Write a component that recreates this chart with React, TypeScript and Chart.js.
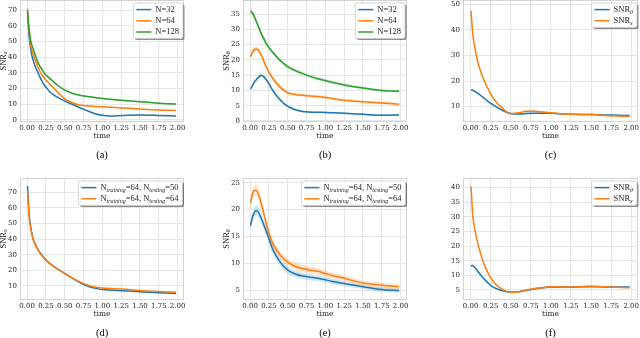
import React, { useEffect, useRef } from "react";
import { Chart, registerables } from "chart.js";
Chart.register(...registerables);

// ---------- data ----------
const TIME = [0.005, 0.025, 0.05, 0.075, 0.1, 0.15, 0.2, 0.25, 0.3, 0.4, 0.5, 0.6, 0.7, 0.8, 0.9, 1.0, 1.1, 1.25, 1.5, 1.75, 1.98];
const X_TICKS = [0, 0.25, 0.5, 0.75, 1, 1.25, 1.5, 1.75, 2];

// (a) SNR_x vs N
const A_N32 = [70, 54, 44, 39, 35, 29.5, 24.5, 21, 18, 14.5, 12, 10, 7.8, 5.8, 4, 3, 2.6, 2.8, 3.2, 2.9, 2.5];
const A_N64 = [71, 57, 47, 42.5, 39, 33, 28.5, 25.5, 23, 18, 13.5, 11, 9.5, 9, 8.6, 8.4, 8.1, 7.7, 7, 6.4, 6.1];
const A_N128 = [69, 58, 50, 46, 42.5, 36, 32, 28.6, 26.5, 22.3, 19, 17, 15.8, 15, 14.3, 13.7, 13.2, 12.6, 11.6, 10.7, 10.2];
const A_N32_SD = [1, 0.9, 0.8, 0.7, 0.6, 0.5, 0.5, 0.5, 0.5, 0.4, 0.4, 0.4, 0.4, 0.4, 0.4, 0.3, 0.3, 0.3, 0.3, 0.3, 0.3];
const A_N64_SD = [1, 0.9, 0.8, 0.7, 0.6, 0.5, 0.5, 0.5, 0.5, 0.5, 0.5, 0.4, 0.4, 0.4, 0.4, 0.4, 0.4, 0.4, 0.3, 0.3, 0.3];
const A_N128_SD = [1, 0.9, 0.8, 0.7, 0.6, 0.6, 0.5, 0.5, 0.5, 0.5, 0.5, 0.4, 0.4, 0.4, 0.4, 0.4, 0.4, 0.4, 0.3, 0.3, 0.3];
const A_TICKS = [0, 10, 20, 30, 40, 50, 60, 70];

// (b) SNR_theta vs N
const B_N32 = [10.5, 11.3, 12.5, 13.3, 14, 15, 14, 12.2, 10, 6.9, 4.8, 3.7, 3.1, 2.9, 2.85, 2.8, 2.7, 2.5, 2.2, 1.9, 2.0];
const B_N64 = [21, 22.3, 23.2, 23.5, 23.4, 21.5, 18.5, 16, 14, 11, 9.3, 8.7, 8.4, 8.2, 8.0, 7.7, 7.3, 6.8, 6.3, 5.9, 5.5];
const B_N128 = [36, 35.5, 34.5, 33, 31.5, 28.5, 26, 24, 22.5, 19.8, 17.8, 16.5, 15.5, 14.6, 13.8, 13.2, 12.6, 11.8, 10.8, 10, 9.7];
const B_N32_SD = [0.6, 0.6, 0.6, 0.6, 0.7, 0.7, 0.7, 0.6, 0.6, 0.5, 0.4, 0.3, 0.3, 0.3, 0.3, 0.3, 0.3, 0.3, 0.3, 0.3, 0.3];
const B_N64_SD = [0.8, 0.9, 0.9, 0.9, 0.9, 0.8, 0.8, 0.7, 0.7, 0.6, 0.6, 0.5, 0.5, 0.5, 0.5, 0.5, 0.45, 0.4, 0.4, 0.4, 0.4];
const B_N128_SD = [1, 1, 1, 1, 1, 0.9, 0.9, 0.8, 0.8, 0.7, 0.7, 0.6, 0.6, 0.6, 0.55, 0.5, 0.5, 0.5, 0.45, 0.4, 0.4];
const B_TICKS = [0, 5, 10, 15, 20, 25, 30, 35];

// (c) SNR_theta and SNR_x
const C_THETA = [16.5, 16.4, 16, 15.5, 15, 13.7, 12.5, 11.3, 10.3, 8.5, 7.3, 7.1, 7.3, 7.4, 7.4, 7.4, 7.2, 7.0, 6.9, 6.7, 6.5];
const C_X = [47.5, 39, 33.5, 29.5, 26.3, 21.7, 18, 15, 12.5, 9.3, 7.2, 7.6, 8.2, 8.2, 7.9, 7.6, 7.3, 7.0, 6.9, 6.4, 6.2];
const C_THETA_SD = [0.3, 0.3, 0.3, 0.3, 0.3, 0.3, 0.3, 0.3, 0.3, 0.3, 0.3, 0.3, 0.3, 0.3, 0.3, 0.3, 0.3, 0.3, 0.3, 0.3, 0.3];
const C_X_SD = [0.8, 0.7, 0.6, 0.5, 0.5, 0.4, 0.4, 0.4, 0.3, 0.3, 0.3, 0.4, 0.4, 0.4, 0.3, 0.3, 0.3, 0.3, 0.3, 0.3, 0.3];
const C_TICKS = [10, 20, 30, 40, 50];

// (d) SNR_x, training/testing sizes
const D_T50 = [74, 57, 47, 41, 37.5, 33, 29.5, 26.6, 24.5, 21, 18, 15, 12.2, 10, 8.6, 7.8, 7.4, 7, 6.3, 5.7, 5.2];
const D_T64 = [71, 55, 46, 40.5, 37, 32.5, 29.2, 26.6, 24.3, 21, 18, 15.2, 12.6, 10.6, 9.3, 8.7, 8.4, 8, 7.1, 6.4, 6.0];
const D_T50_SD = [0.8, 0.7, 0.6, 0.6, 0.6, 0.5, 0.5, 0.5, 0.5, 0.5, 0.5, 0.4, 0.4, 0.4, 0.4, 0.3, 0.3, 0.3, 0.3, 0.3, 0.3];
const D_T64_SD = [0.8, 0.7, 0.6, 0.6, 0.6, 0.5, 0.5, 0.5, 0.5, 0.5, 0.5, 0.4, 0.4, 0.4, 0.4, 0.3, 0.3, 0.3, 0.3, 0.3, 0.3];
const D_TICKS = [10, 20, 30, 40, 50, 60, 70];

// (e) SNR_theta, training/testing sizes
const E_T50 = [17, 18.3, 19.3, 19.8, 19.7, 18.3, 16.5, 14.6, 12.6, 10.2, 8.7, 8.0, 7.6, 7.4, 7.2, 6.9, 6.6, 6.2, 5.6, 5.1, 4.9];
const E_T64 = [21.2, 22.6, 23.5, 23.6, 23.2, 21, 18.2, 15.6, 13.7, 11.5, 10.2, 9.4, 9.0, 8.7, 8.5, 8.1, 7.7, 7.2, 6.3, 5.9, 5.6];
const E_T50_SD = [0.8, 0.8, 0.9, 0.9, 0.9, 0.9, 0.8, 0.8, 0.8, 0.7, 0.7, 0.6, 0.6, 0.6, 0.5, 0.5, 0.5, 0.45, 0.4, 0.4, 0.4];
const E_T64_SD = [0.9, 0.9, 1, 1, 1, 0.9, 0.9, 0.8, 0.8, 0.7, 0.7, 0.7, 0.7, 0.6, 0.6, 0.6, 0.55, 0.5, 0.5, 0.5, 0.45];
const E_TICKS = [5, 10, 15, 20, 25];

// (f) SNR_theta and SNR_x
const F_THETA = [13.2, 13.4, 12.8, 11.9, 11, 9.3, 7.9, 6.6, 5.7, 4.7, 4.3, 4.4, 4.9, 5.4, 5.8, 6.0, 6.0, 6.0, 6.2, 6.0, 6.0];
const F_X = [40.5, 31, 26, 22.5, 19.8, 15.2, 11.8, 9.2, 7.3, 5.1, 4.2, 4.3, 5.0, 5.5, 5.8, 6.1, 6.1, 6.0, 6.2, 6.0, 5.8];
const F_THETA_SD = [0.3, 0.3, 0.3, 0.3, 0.3, 0.3, 0.3, 0.3, 0.3, 0.3, 0.3, 0.3, 0.3, 0.3, 0.3, 0.3, 0.3, 0.3, 0.3, 0.3, 0.3];
const F_X_SD = [0.6, 0.5, 0.5, 0.4, 0.4, 0.4, 0.3, 0.3, 0.3, 0.3, 0.3, 0.3, 0.3, 0.3, 0.3, 0.3, 0.3, 0.3, 0.3, 0.3, 0.3];
const F_TICKS = [5, 10, 15, 20, 25, 30, 35, 40];

const LABELS_N = ["N=32", "N=64", "N=128"];
const LABELS_SNR = ["SNR_{θ}", "SNR_{x}"];
const LABELS_TT = ["N_{training}=64, N_{testing}=50", "N_{training}=64, N_{testing}=64"];
const CAPTIONS = ["(a)", "(b)", "(c)", "(d)", "(e)", "(f)"];
const X_TITLE = "time";

// ---------- style ----------
const BLUE = "#1f77b4";
const ORANGE = "#ff7f0e";
const GREEN = "#2ca02c";
const TXT = "#262626";
const GRID = "#e6e6e6";
const SPINE = "#d4d4d4";
const TICK_FONT = "DejaVu Serif";
const LABEL_FONT = "Liberation Serif";
const Y_W = 22;
const PAD_T = 8;
const PAD_R = 12;
const X_H = 45;

type Series = { label: string; color: string; values: number[]; sd: number[] };
type Panel = {
  frame: [number, number, number, number];
  yMin: number;
  yMax: number;
  yTicks: number[];
  yTitle: string | null;
  caption: string;
  series: Series[];
  legendInset: number;
};

const PANELS: Panel[] = [
  {
    frame: [20, 0, 184, 122], yMin: -1.3, yMax: 76.5, yTicks: A_TICKS, yTitle: "SNR_{x}", caption: CAPTIONS[0], legendInset: 1,
    series: [
      { label: LABELS_N[0], color: BLUE, values: A_N32, sd: A_N32_SD },
      { label: LABELS_N[1], color: ORANGE, values: A_N64, sd: A_N64_SD },
      { label: LABELS_N[2], color: GREEN, values: A_N128, sd: A_N128_SD },
    ],
  },
  {
    frame: [243, 0, 407, 122], yMin: -0.33, yMax: 39.6, yTicks: B_TICKS, yTitle: "SNR_{θ}", caption: CAPTIONS[1], legendInset: 2,
    series: [
      { label: LABELS_N[0], color: BLUE, values: B_N32, sd: B_N32_SD },
      { label: LABELS_N[1], color: ORANGE, values: B_N64, sd: B_N64_SD },
      { label: LABELS_N[2], color: GREEN, values: B_N128, sd: B_N128_SD },
    ],
  },
  {
    frame: [463, 0, 638, 122], yMin: 4.0, yMax: 51.7, yTicks: C_TICKS, yTitle: null, caption: CAPTIONS[2], legendInset: 1,
    series: [
      { label: LABELS_SNR[0], color: BLUE, values: C_THETA, sd: C_THETA_SD },
      { label: LABELS_SNR[1], color: ORANGE, values: C_X, sd: C_X_SD },
    ],
  },
  {
    frame: [20, 178, 184, 300], yMin: 1.0, yMax: 79.2, yTicks: D_TICKS, yTitle: "SNR_{x}", caption: CAPTIONS[3], legendInset: 1.5,
    series: [
      { label: LABELS_TT[0], color: BLUE, values: D_T50, sd: D_T50_SD },
      { label: LABELS_TT[1], color: ORANGE, values: D_T64, sd: D_T64_SD },
    ],
  },
  {
    frame: [243, 178, 407, 300], yMin: 3.14, yMax: 25.9, yTicks: E_TICKS, yTitle: "SNR_{θ}", caption: CAPTIONS[4], legendInset: 1.5,
    series: [
      { label: LABELS_TT[0], color: BLUE, values: E_T50, sd: E_T50_SD },
      { label: LABELS_TT[1], color: ORANGE, values: E_T64, sd: E_T64_SD },
    ],
  },
  {
    frame: [463, 178, 638, 300], yMin: 1.58, yMax: 43.3, yTicks: F_TICKS, yTitle: null, caption: CAPTIONS[5], legendInset: 1,
    series: [
      { label: LABELS_SNR[0], color: BLUE, values: F_THETA, sd: F_THETA_SD },
      { label: LABELS_SNR[1], color: ORANGE, values: F_X, sd: F_X_SD },
    ],
  },
];

// ---------- helpers ----------
type Seg = { t: string; sub: boolean };
function parseRich(s: string): Seg[] {
  const out: Seg[] = [];
  const re = /_\{([^}]*)\}/g;
  let last = 0;
  let m: RegExpExecArray | null;
  while ((m = re.exec(s))) {
    if (m.index > last) out.push({ t: s.slice(last, m.index), sub: false });
    out.push({ t: m[1], sub: true });
    last = m.index + m[0].length;
  }
  if (last < s.length) out.push({ t: s.slice(last), sub: false });
  return out;
}
function segFont(seg: Seg, size: number) {
  return seg.sub ? `italic ${size * 0.7}px "${LABEL_FONT}"` : `${size}px "${LABEL_FONT}"`;
}
function richWidth(ctx: CanvasRenderingContext2D, segs: Seg[], size: number) {
  let w = 0;
  for (const s of segs) {
    ctx.font = segFont(s, size);
    w += ctx.measureText(s.t).width;
  }
  return w;
}
function drawRich(ctx: CanvasRenderingContext2D, segs: Seg[], x: number, y: number, size: number) {
  ctx.textBaseline = "middle";
  ctx.textAlign = "left";
  for (const s of segs) {
    ctx.font = segFont(s, size);
    ctx.fillText(s.t, x, s.sub ? y + size * 0.28 : y);
    x += ctx.measureText(s.t).width;
  }
}
function rgba(hex: string, a: number) {
  const n = parseInt(hex.slice(1), 16);
  return `rgba(${(n >> 16) & 255},${(n >> 8) & 255},${n & 255},${a})`;
}
function roundRect(ctx: CanvasRenderingContext2D, x: number, y: number, w: number, h: number, r: number) {
  ctx.beginPath();
  ctx.moveTo(x + r, y);
  ctx.lineTo(x + w - r, y);
  ctx.quadraticCurveTo(x + w, y, x + w, y + r);
  ctx.lineTo(x + w, y + h - r);
  ctx.quadraticCurveTo(x + w, y + h, x + w - r, y + h);
  ctx.lineTo(x + r, y + h);
  ctx.quadraticCurveTo(x, y + h, x, y + h - r);
  ctx.lineTo(x, y + r);
  ctx.quadraticCurveTo(x, y, x + r, y);
  ctx.closePath();
}

function PanelChart({ p }: { p: Panel }) {
  const ref = useRef<HTMLCanvasElement>(null);
  const [l, t, r, b] = p.frame;
  const cl = l - Y_W;
  const ct = t - PAD_T;
  const cw = r + PAD_R - cl;
  const ch = b + X_H - ct;

  useEffect(() => {
    const canvas = ref.current;
    if (!canvas) return;
    const n = p.series.length;
    const datasets: any[] = [];
    p.series.forEach((s, i) => {
      const upperIdx = datasets.length;
      datasets.push({
        data: TIME.map((x, k) => ({ x, y: s.values[k] + s.sd[k] })),
        borderColor: "transparent", borderWidth: 0, pointRadius: 0,
        backgroundColor: rgba(s.color, 0.2), fill: upperIdx + 1,
        cubicInterpolationMode: "monotone", order: 100 + n - i,
      });
      datasets.push({
        data: TIME.map((x, k) => ({ x, y: s.values[k] - s.sd[k] })),
        borderColor: "transparent", borderWidth: 0, pointRadius: 0, fill: false,
        cubicInterpolationMode: "monotone", order: 100 + n - i,
      });
      datasets.push({
        data: TIME.map((x, k) => ({ x, y: s.values[k] })),
        borderColor: s.color, borderWidth: 1.5, pointRadius: 0, fill: false,
        cubicInterpolationMode: "monotone", order: n - i,
      });
    });

    const deco = {
      id: "deco",
      afterDraw(chart: any) {
        const ctx: CanvasRenderingContext2D = chart.ctx;
        const a = chart.chartArea;
        ctx.save();
        // frame
        ctx.strokeStyle = SPINE;
        ctx.lineWidth = 1;
        ctx.strokeRect(a.left + 0.5, a.top + 0.5, a.right - a.left - 1, a.bottom - a.top - 1);
        // x title
        ctx.fillStyle = TXT;
        ctx.font = `7.5px "${TICK_FONT}"`;
        ctx.textAlign = "center";
        ctx.textBaseline = "middle";
        const cx = (a.left + a.right) / 2;
        ctx.fillText(X_TITLE, cx, a.bottom + 14);
        // caption
        ctx.fillStyle = "#000";
        ctx.font = `10.5px "${LABEL_FONT}"`;
        ctx.fillText(p.caption, cx, a.bottom + 33);
        // y title
        if (p.yTitle) {
          const segs = parseRich(p.yTitle);
          const w = richWidth(ctx, segs, 8.5);
          ctx.save();
          ctx.translate(a.left - 16.5, (a.top + a.bottom) / 2);
          ctx.rotate(-Math.PI / 2);
          ctx.fillStyle = TXT;
          drawRich(ctx, segs, -w / 2, 0, 8.5);
          ctx.restore();
        }
        // legend
        const size = 8.5;
        const rows = p.series.map((s) => parseRich(s.label));
        const tw = Math.max(...rows.map((sg) => richWidth(ctx, sg, size)));
        const boxW = 3 + 15 + 4 + tw + 4;
        const rowH = 11.2;
        const boxH = rows.length * rowH + 2;
        const x0 = a.right - p.legendInset - boxW;
        const y0 = a.top + 3;
        ctx.fillStyle = "rgba(0,0,0,0.45)";
        roundRect(ctx, x0 + 1.5, y0 + 1.5, boxW, boxH, 2);
        ctx.fill();
        ctx.fillStyle = "#ffffff";
        roundRect(ctx, x0, y0, boxW, boxH, 2);
        ctx.fill();
        ctx.strokeStyle = "#cccccc";
        ctx.lineWidth = 0.8;
        ctx.stroke();
        rows.forEach((sg, i) => {
          const yy = y0 + 1 + rowH * (i + 0.5);
          ctx.strokeStyle = p.series[i].color;
          ctx.lineWidth = 1.5;
          ctx.beginPath();
          ctx.moveTo(x0 + 3, yy);
          ctx.lineTo(x0 + 18, yy);
          ctx.stroke();
          ctx.fillStyle = TXT;
          drawRich(ctx, sg, x0 + 22, yy, size);
        });
        ctx.restore();
      },
    };

    const chart = new Chart(canvas, {
      type: "line",
      data: { datasets },
      options: {
        animation: false,
        responsive: false,
        events: [],
        layout: { padding: { left: 0, top: PAD_T, right: PAD_R, bottom: 0 } },
        plugins: { legend: { display: false }, tooltip: { enabled: false } },
        scales: {
          x: {
            type: "linear", min: -0.095, max: 2.085, bounds: "data",
            afterBuildTicks: (sc: any) => { sc.ticks = X_TICKS.map((v) => ({ value: v })); },
            afterFit: (sc: any) => { sc.height = X_H; },
            grid: { color: GRID, lineWidth: 1, drawTicks: false },
            border: { display: false },
            ticks: {
              font: { family: TICK_FONT, size: 7 }, color: TXT, padding: 1.5,
              maxRotation: 0, autoSkip: false,
              callback: (v: any) => Number(v).toFixed(2),
            },
          },
          y: {
            type: "linear", min: p.yMin, max: p.yMax, bounds: "data",
            afterBuildTicks: (sc: any) => { sc.ticks = p.yTicks.map((v) => ({ value: v })); },
            afterFit: (sc: any) => { sc.width = Y_W; },
            grid: { color: GRID, lineWidth: 1, drawTicks: false },
            border: { display: false },
            ticks: {
              font: { family: TICK_FONT, size: 7 }, color: TXT, padding: 3,
              autoSkip: false,
              callback: (v: any) => String(v),
            },
          },
        },
      } as any,
      plugins: [deco],
    });
    return () => chart.destroy();
  }, []);

  return (
    <div style={{ position: "absolute", left: cl, top: ct, width: cw, height: ch }}>
      <canvas ref={ref} width={cw} height={ch} style={{ display: "block", width: cw, height: ch }} />
    </div>
  );
}

export default function App() {
  return (
    <div style={{ position: "fixed", left: 0, top: 0, width: 640, height: 338, background: "#fff", overflow: "hidden" }}>
      {PANELS.map((p, i) => (
        <PanelChart key={i} p={p} />
      ))}
    </div>
  );
}
